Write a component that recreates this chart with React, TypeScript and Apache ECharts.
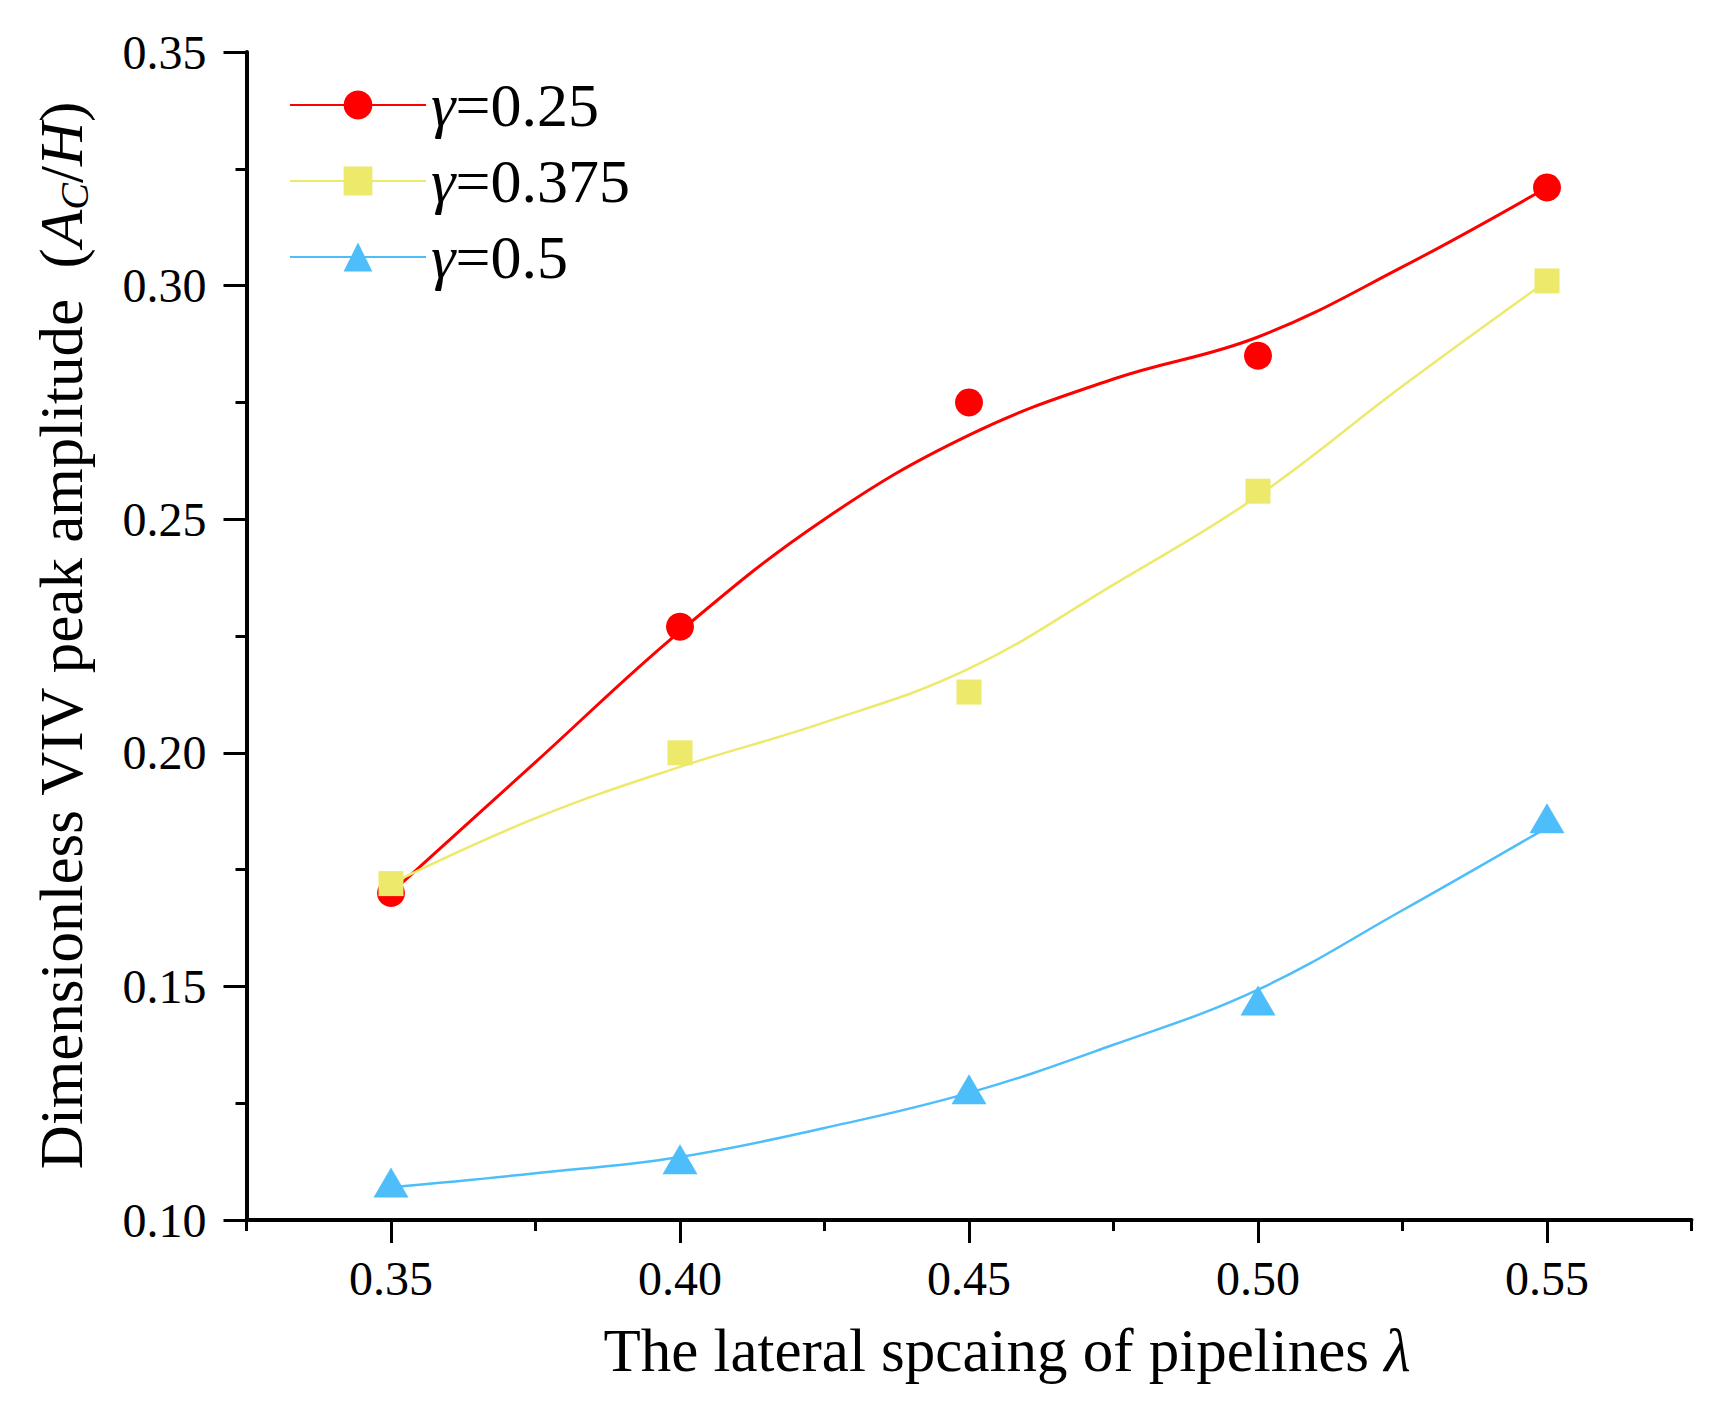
import React, { useEffect, useRef } from "react";
import * as echarts from "echarts";

// ---- data ----
const lambdaValues = [0.35, 0.4, 0.45, 0.5, 0.55];
const seriesNames = ["γ=0.25", "γ=0.375", "γ=0.5"];
// measured points (markers)
const pointsG025 = [0.17, 0.227, 0.275, 0.285, 0.321];
const pointsG0375 = [0.172, 0.2, 0.213, 0.256, 0.301];
const pointsG05 = [0.108, 0.113, 0.128, 0.147, 0.186];
// fitted curves at these lambda positions
const curveLambda = [0.35, 0.375, 0.4, 0.425, 0.45, 0.475, 0.5, 0.525, 0.55];
const curveG025 = [0.17, 0.198, 0.226, 0.25, 0.268, 0.28, 0.289, 0.304, 0.321];
const curveG0375 = [0.172, 0.186, 0.197, 0.2065, 0.218, 0.236, 0.255, 0.2785, 0.301];
const curveG05 = [0.107, 0.11, 0.1135, 0.1197, 0.1272, 0.1375, 0.1493, 0.1663, 0.184];
const yTickLabels = ["0.10", "0.15", "0.20", "0.25", "0.30", "0.35"];
const xTickLabels = ["0.35", "0.40", "0.45", "0.50", "0.55"];

const FONT = '"Times New Roman", "Liberation Serif", serif';
const COLORS = ["#FF0000", "#EDE96A", "#4DBEFA"];
const SYMBOLS = ["circle", "rect", "triangle"];
const SYMBOL_SIZES: any[] = [28, 25, [35, 30]];
const LINE_WIDTHS = [3, 2.5, 2.5];

const pairs = (xs: number[], ys: number[]) => xs.map((x, i) => [x, ys[i]]);

export default function App() {
  const ref = useRef<HTMLDivElement>(null);
  useEffect(() => {
    document.body.style.margin = "0";
    document.body.style.overflow = "hidden";
    if (!ref.current) return;
    const chart = echarts.init(ref.current, undefined, { renderer: "svg" });
    const curves = [curveG025, curveG0375, curveG05];
    const points = [pointsG025, pointsG0375, pointsG05];

    const lineSeries = seriesNames.map((name, i) => ({
      name,
      type: "line",
      xAxisIndex: 0,
      yAxisIndex: 0,
      data: pairs(curveLambda, curves[i]),
      smooth: 0.4,
      symbol: SYMBOLS[i],
      symbolSize: SYMBOL_SIZES[i],
      showSymbol: false,
      lineStyle: { color: COLORS[i], width: LINE_WIDTHS[i] },
      itemStyle: { color: COLORS[i] },
      z: 2,
    }));
    const scatterSeries = seriesNames.map((name, i) => ({
      name,
      type: "scatter",
      xAxisIndex: 0,
      yAxisIndex: 0,
      data: pairs(lambdaValues, points[i]),
      symbol: SYMBOLS[i],
      symbolSize: SYMBOL_SIZES[i],
      itemStyle: { color: COLORS[i], opacity: 1 },
      z: 3 + i,
    }));

    const axisLine = { show: true, onZero: false, lineStyle: { color: "#000", width: 4 } };

    chart.setOption({
      animation: false,
      backgroundColor: "#fff",
      textStyle: { fontFamily: FONT, color: "#000" },
      grid: [
        { left: 246.5, right: 28.5, top: 52, bottom: 188, containLabel: false },
        { left: 391, right: 173, top: 52, bottom: 188, containLabel: false },
      ],
      legend: {
        orient: "vertical",
        left: 289,
        top: 74,
        padding: 0,
        itemWidth: 136,
        itemHeight: 36,
        itemGap: 14,
        data: seriesNames,
        formatter: (name: string) => `{i|${name.slice(0, 1)}}{n|${name.slice(1)}}`,
        textStyle: {
          fontFamily: FONT,
          fontSize: 62,
          color: "#000",
          padding: [0, 0, 0, 0],
          rich: {
            i: { fontFamily: FONT, fontSize: 62, fontStyle: "italic", color: "#000" },
            n: { fontFamily: FONT, fontSize: 62, color: "#000" },
          },
        },
      },
      xAxis: [
        {
          type: "value",
          gridIndex: 0,
          min: 0.325,
          max: 0.575,
          interval: 0.025,
          axisLine,
          axisTick: { show: true, inside: false, length: 11, lineStyle: { color: "#000", width: 3 } },
          axisLabel: { show: false },
          splitLine: { show: false },
        },
        {
          type: "value",
          gridIndex: 1,
          min: 0.35,
          max: 0.55,
          interval: 0.05,
          axisLine: { show: false, onZero: false },
          axisTick: { show: true, inside: false, length: 23, lineStyle: { color: "#000", width: 3 } },
          axisLabel: {
            show: true,
            fontFamily: FONT,
            fontSize: 48,
            color: "#000",
            margin: 34,
            formatter: (v: number) => xTickLabels[Math.round((v - 0.35) / 0.05)] ?? "",
          },
          splitLine: { show: false },
          name: "{t|The lateral spcaing of pipelines }{i|λ}",
          nameLocation: "middle",
          nameGap: 100,
          nameTextStyle: {
            fontFamily: FONT,
            fontSize: 61,
            color: "#000",
            padding: [0, 0, 0, 76],
            rich: {
              t: { fontFamily: FONT, fontSize: 61, color: "#000" },
              i: { fontFamily: FONT, fontSize: 61, fontStyle: "italic", color: "#000" },
            },
          },
        },
      ],
      yAxis: [
        {
          type: "value",
          gridIndex: 0,
          min: 0.1,
          max: 0.35,
          interval: 0.05,
          axisLine,
          axisTick: { show: true, inside: false, length: 23, lineStyle: { color: "#000", width: 3 } },
          minorTick: { show: true, splitNumber: 2, length: 11, lineStyle: { color: "#000", width: 3 } },
          axisLabel: {
            show: true,
            fontFamily: FONT,
            fontSize: 48,
            color: "#000",
            margin: 40,
            formatter: (v: number) => yTickLabels[Math.round((v - 0.1) / 0.05)] ?? "",
          },
          splitLine: { show: false },
          minorSplitLine: { show: false },
          name: "{t|Dimensionless VIV peak amplitude  (}{i|A}{s|C}{t|/}{i|H}{t|)}",
          nameLocation: "middle",
          nameRotate: 90,
          nameGap: 152,
          nameTextStyle: {
            fontFamily: FONT,
            fontSize: 61,
            color: "#000",
            rich: {
              t: { fontFamily: FONT, fontSize: 61, color: "#000", lineHeight: 66 },
              i: { fontFamily: FONT, fontSize: 61, fontStyle: "italic", color: "#000", lineHeight: 66 },
              s: {
                fontFamily: FONT,
                fontSize: 40,
                fontStyle: "italic",
                color: "#000",
                lineHeight: 36,
                verticalAlign: "bottom",
              },
            },
          },
        },
        { type: "value", gridIndex: 1, show: false, min: 0, max: 1 },
      ],
      series: [...lineSeries, ...scatterSeries],
    });
    return () => chart.dispose();
  }, []);
  return <div ref={ref} style={{ width: 1720, height: 1408 }} />;
}
